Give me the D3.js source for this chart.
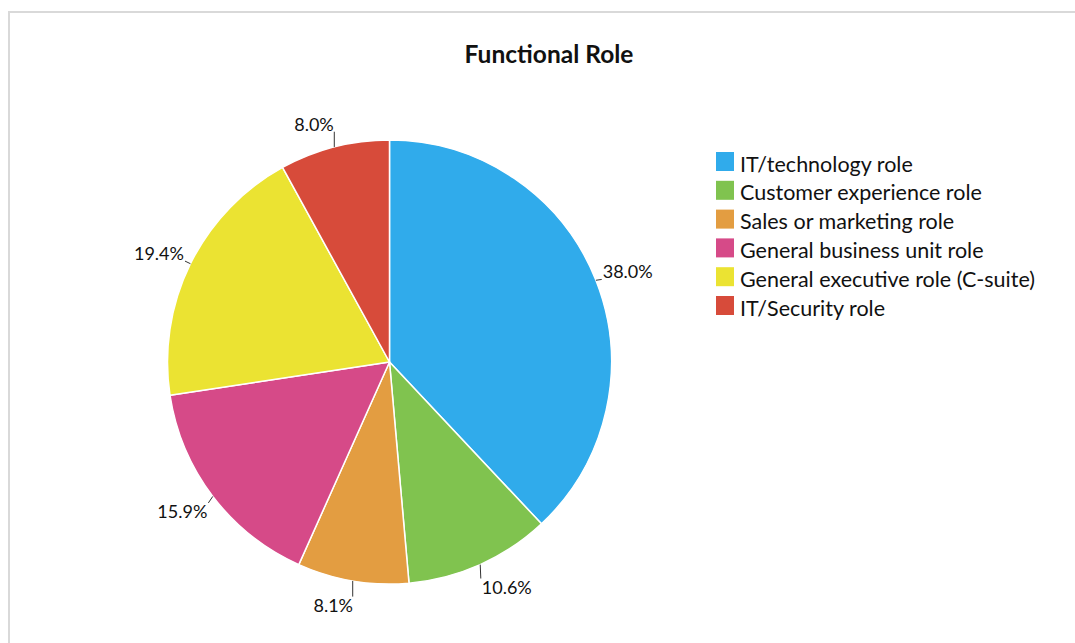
<!DOCTYPE html>
<html>
<head>
<meta charset="utf-8">
<script src="https://cdn.jsdelivr.net/npm/d3@7"></script>
<style>
  html, body { margin: 0; padding: 0; background: #fff; }
  svg { display: block; }
  text { font-family: Lato, "Open Sans", sans-serif; fill: #111; }
</style>
</head>
<body>
<svg id="chart" width="1075" height="643"></svg>
<script>
// Survey breakdown by functional role (percent of respondents)
const categories = [
  "IT/technology role",
  "Customer experience role",
  "Sales or marketing role",
  "General business unit role",
  "General executive role (C-suite)",
  "IT/Security role"
];
const values = [38.0, 10.6, 8.1, 15.9, 19.4, 8.0];
const colors = ["#30abeb", "#80c34f", "#e39d41", "#d64a88", "#ebe332", "#d74b3a"];
const title = "Functional Role";

const W = 1075, H = 643;
const cx = 389.5, cy = 362, radius = 222;

const svg = d3.select("#chart");

// chart frame (runs past the right and bottom edges)
svg.append("rect")
  .attr("x", 9).attr("y", 12)
  .attr("width", W + 20).attr("height", H + 20)
  .attr("fill", "none")
  .attr("stroke", "#d9d9d9")
  .attr("stroke-width", 2);

svg.append("text")
  .attr("x", 549).attr("y", 63)
  .attr("text-anchor", "middle")
  .attr("font-size", 24.5)
  .attr("font-weight", "bold")
  .text(title);

const data = categories.map((c, i) => ({ name: c, value: values[i], color: colors[i] }));

const pie = d3.pie().value(d => d.value).sort(null);
const arcs = pie(data);
const arc = d3.arc().innerRadius(0).outerRadius(radius);

const g = svg.append("g").attr("transform", `translate(${cx},${cy})`);

g.selectAll("path.slice")
  .data(arcs)
  .join("path")
  .attr("class", "slice")
  .attr("d", arc)
  .attr("fill", d => d.data.color)
  .attr("stroke", "#fff")
  .attr("stroke-width", 1.5)
  .attr("stroke-linejoin", "round");

// outside data labels: the label box hangs off an anchor point just past the rim,
// on the side the slice faces, and a leader joins the rim to the box
const anchorR = radius + 10;
const labelFont = 18;
arcs.forEach(a => {
  const mid = (a.startAngle + a.endAngle) / 2;
  const sx = Math.sin(mid), sy = -Math.cos(mid);
  const t = g.append("text")
    .attr("text-anchor", "middle")
    .attr("dominant-baseline", "central")
    .attr("font-size", labelFont)
    .text(d3.format(".1f")(a.data.value) + "%");
  const b0 = t.node().getBBox();
  const ax = sx * anchorR, ay = sy * anchorR;
  const lx = ax + Math.sign(sx) * b0.width * 0.45;
  const ly = ay + sy * (b0.height / 2 + 3);
  t.attr("x", lx).attr("y", ly);
  const bb = t.node().getBBox();
  const ex = sx * radius, ey = sy * radius;
  const px = Math.max(bb.x - 1, Math.min(ex, bb.x + bb.width + 1));
  const py = Math.max(bb.y + 3, Math.min(ey, bb.y + bb.height - 3));
  if (Math.hypot(px - ex, py - ey) > 3) {
    g.append("line")
      .attr("x1", ex).attr("y1", ey)
      .attr("x2", px).attr("y2", py)
      .attr("stroke", "#333")
      .attr("stroke-width", 1);
  }
});

// legend
const legend = svg.append("g").attr("transform", "translate(716,152)");
const rowH = 28.8;
const rows = legend.selectAll("g.row")
  .data(data)
  .join("g")
  .attr("class", "row")
  .attr("transform", (d, i) => `translate(0,${i * rowH})`);
rows.append("rect")
  .attr("width", 18).attr("height", 19)
  .attr("fill", d => d.color);
rows.append("text")
  .attr("x", 24).attr("y", 19.5)
  .attr("font-size", 21.5)
  .text(d => d.name);
</script>
</body>
</html>
